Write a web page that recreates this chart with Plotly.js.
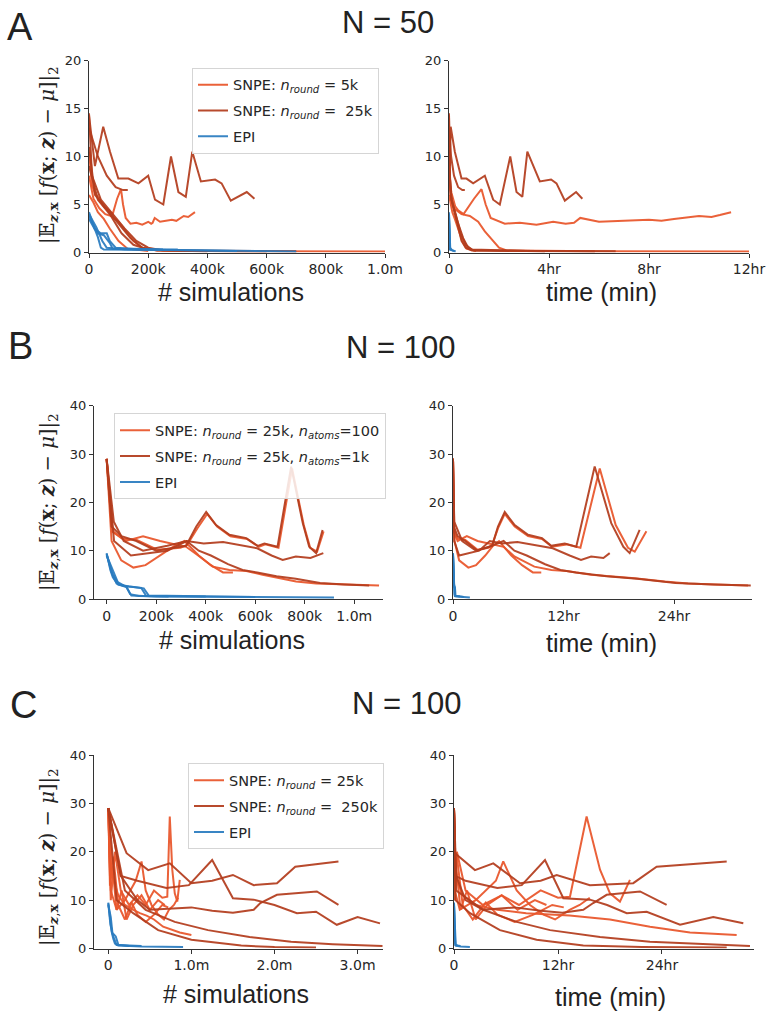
<!DOCTYPE html>
<html>
<head>
<meta charset="utf-8">
<script src="https://cdn.plot.ly/plotly-3.0.1.min.js"></script>
<style>html,body{margin:0;padding:0;background:#fff;}#chart{width:766px;height:1015px;}</style>
</head>
<body>
<div id="chart"></div>
<script>
// ===== Panel A (N = 50): sims in thousands, time in minutes =====
const A_o1_y    = [10.5, 7.0, 6.2, 5.6, 4.8, 4.4, 4.0, 5.6, 6.6, 5.0, 3.6, 3.0, 3.1, 2.9, 3.2, 3.0, 3.1, 3.6, 3.2, 3.3, 3.4, 3.3, 3.5, 3.8, 3.7, 3.9, 4.2];
const A_o1_sims = [0, 10, 20, 35, 50, 65, 80, 95, 108, 115, 124, 140, 160, 180, 200, 210, 215, 222, 240, 260, 280, 295, 305, 320, 335, 345, 358];
const A_o1_time = [0, 3, 6, 10, 15, 22, 35, 60, 78, 88, 100, 134, 170, 210, 250, 280, 300, 315, 360, 420, 480, 510, 540, 600, 630, 650, 677];
const A_o2_y    = [8.0, 5.6, 4.6, 4.0, 3.8, 3.2, 2.2, 1.2, 0.5, 0.2, 0.12, 0.1];
const A_o2_sims = [0, 15, 35, 55, 75, 100, 125, 150, 180, 230, 500, 1000];
const A_o2_time = [0, 4, 12, 30, 50, 70, 86, 105, 120, 140, 360, 720];
const A_o3_y    = [6.0, 5.2, 4.2, 3.5, 2.5, 1.2, 0.4, 0.15];
const A_o3_sims = [0, 15, 30, 50, 70, 100, 130, 200];
const A_o3_time = [0, 3, 8, 14, 22, 32, 42, 65];
const A_d1_y    = [14.3, 9.0, 13.1, 10.5, 7.7, 7.7, 7.2, 8.0, 5.5, 5.0, 10.0, 6.3, 5.8, 10.5, 7.4, 7.6, 7.2, 5.4, 6.3, 5.6];
const A_d1_sims = [0, 20, 48, 71, 99, 133, 167, 200, 223, 251, 277, 302, 327, 349, 378, 426, 448, 479, 533, 559];
const A_d1_time = [0, 2, 4, 14, 30, 42, 58, 86, 106, 122, 147, 162, 176, 188, 218, 245, 258, 278, 305, 320];
const A_d2_y    = [13.0, 10.0, 8.0, 6.8, 6.5, 6.5];
const A_d2_sims = [0, 30, 60, 90, 115, 131];
const A_d2_time = [0, 5, 12, 22, 32, 38];
const A_d3_y    = [14.5, 8.0, 5.5, 4.0, 2.5, 1.2, 0.5, 0.2, 0.15, 0.12];
const A_d3_sims = [0, 10, 40, 80, 120, 160, 200, 250, 450, 700];
const A_d3_time = [0, 2, 6, 14, 22, 30, 40, 55, 200, 400];
const A_d4_y    = [11.0, 6.0, 4.5, 3.0, 1.5, 0.5, 0.2, 0.1];
const A_d4_sims = [0, 20, 60, 100, 140, 180, 230, 600];
const A_d4_time = [0, 4, 12, 22, 34, 46, 60, 350];
const A_d5_y    = [9.0, 5.5, 4.0, 2.0, 0.8, 0.3, 0.1];
const A_d5_sims = [0, 30, 70, 110, 150, 200, 400];
const A_d5_time = [0, 6, 16, 28, 40, 55, 230];
const A_e1_y    = [4.2, 3.2, 2.4, 1.6, 0.5, 0.3, 0.3, 0.25, 0.1];
const A_e1_sims = [0, 10, 20, 30, 40, 50, 100, 300, 700];
const A_e1_time = [0, 0.3, 0.6, 0.9, 1.2, 1.5, 3, 8, 16];
const A_e2_y    = [3.8, 2.8, 2.0, 1.8, 1.0, 0.4, 0.3, 0.15];
const A_e2_sims = [0, 15, 30, 50, 70, 80, 150, 500];
const A_e2_time = [0, 0.4, 0.8, 1.3, 1.8, 2.1, 4, 12];
const A_e3_y    = [3.5, 2.4, 2.0, 2.0, 1.2, 0.5, 0.4, 0.3];
const A_e3_sims = [0, 20, 40, 60, 70, 90, 150, 250];
const A_e3_time = [0, 0.5, 1, 1.5, 1.8, 2.3, 4, 6];
const A_e4_y    = [4.0, 2.6, 1.2, 0.5, 0.35, 0.3];
const A_e4_sims = [0, 25, 45, 60, 120, 300];
const A_e4_time = [0, 0.6, 1.1, 1.5, 3, 7];

// ===== Panel B (N = 100, atoms): sims in thousands, time in minutes =====
const B_r1_y    = [29, 15, 13, 12, 10, 10.8, 11, 15, 18, 15.3, 13.3, 12.6, 11.0, 11.5, 10.8, 27.4, 15.7, 10.8, 9.5, 14.3];
const B_r1_sims = [0, 20, 60, 120, 200, 294, 321, 362, 402, 442, 496, 564, 610, 637, 690, 745, 792, 818, 846, 872];
const B_r1_time = [0, 5, 30, 80, 160, 230, 255, 293, 337, 402, 489, 580, 640, 728, 803, 923, 1031, 1110, 1151, 1216];
const B_r1o_y    = [29, 14, 12.5, 12.2, 10.2, 10.6, 11.2, 14.6, 17.6, 15.0, 13.0, 12.4, 10.8, 11.3, 10.6, 27.0, 15.3, 10.6, 9.8, 14.0];
const B_r1o_sims = [0, 22, 62, 122, 204, 298, 325, 366, 406, 446, 500, 568, 614, 641, 694, 749, 796, 822, 850, 876];
const B_r1o_time = [0, 5, 30, 80, 160, 230, 255, 293, 337, 402, 489, 580, 645, 740, 830, 956, 1060, 1140, 1184, 1260];
const B_r2_y    = [29, 12, 9, 9.5, 10, 12, 11.5, 11.8, 11, 10.5, 9, 8.1, 8.8, 8.5, 9.5];
const B_r2_sims = [0, 30, 98, 176, 245, 323, 392, 470, 549, 608, 666, 711, 764, 823, 875];
const B_r2_time = [0, 8, 40, 100, 170, 240, 320, 420, 560, 650, 760, 834, 900, 980, 1021];
const B_r3_y    = [29, 14, 12, 13, 12, 10.8, 8.8, 6.7, 6.0, 5.8, 5.0, 4.3, 3.6, 3.2, 3.0, 2.8];
const B_r3_sims = [0, 25, 78, 147, 216, 321, 375, 428, 496, 564, 630, 698, 765, 846, 940, 1100];
const B_r3_time = [0, 5, 30, 90, 160, 330, 400, 530, 641, 740, 900, 1184, 1379, 1531, 1705, 1922];
const B_r4_y    = [29, 16, 12, 10, 11, 12, 10, 9, 7.2, 6.0, 5.5, 4.7, 4.2, 3.3, 3.0, 2.8];
const B_r4_sims = [0, 29, 69, 147, 245, 323, 372, 421, 490, 549, 608, 686, 764, 862, 960, 1060];
const B_r4_time = [0, 8, 60, 150, 250, 330, 400, 480, 600, 700, 800, 1000, 1200, 1450, 1700, 1940];
const B_r5_y    = [29, 12, 8, 6.5, 7, 9, 11, 12, 9, 7, 5.5, 5.5];
const B_r5_sims = [0, 20, 59, 108, 157, 216, 274, 314, 372, 421, 470, 510];
const B_r5_time = [0, 10, 40, 100, 150, 210, 260, 300, 380, 450, 520, 575];
const B_e1_y    = [9.5, 6.0, 4.5, 3.0, 2.5, 0.7, 0.5, 0.4, 0.3];
const B_e1_sims = [0, 15, 25, 45, 80, 100, 200, 500, 918];
const B_e1_time = [0, 2, 4, 7, 10, 13, 30, 60, 110];
const B_e2_y    = [9.2, 5.5, 3.2, 2.7, 2.5, 2.3, 0.6, 0.5];
const B_e2_sims = [0, 20, 40, 70, 110, 140, 160, 400];
const B_e2_time = [0, 2, 4, 7, 10, 13, 15, 45];
const B_e3_y    = [9.0, 6.5, 3.5, 2.5, 1.0, 0.6, 0.5];
const B_e3_sims = [0, 20, 45, 80, 95, 130, 250];
const B_e3_time = [0, 2, 4, 7, 9, 12, 25];
const B_e4_y    = [9.3, 5.0, 3.0, 2.6, 2.2, 0.7, 0.4];
const B_e4_sims = [0, 25, 50, 90, 150, 170, 600];
const B_e4_time = [0, 2, 5, 8, 13, 15, 70];

// ===== Panel C (N = 100, round size): sims in millions, time in minutes =====
const C_o1_y    = [29, 10, 20, 12, 9, 11, 9, 12, 10.5, 10.7, 27.3, 16.3, 11.4, 9.7, 14.2];
const C_o1_sims = [0, 0.03, 0.08, 0.15, 0.25, 0.35, 0.45, 0.55, 0.65, 0.71, 0.74, 0.77, 0.8, 0.83, 0.86];
const C_o1_time = [0, 5, 20, 80, 200, 330, 450, 600, 720, 803, 918, 1011, 1080, 1149, 1218];
const C_o2_y    = [29, 12, 8, 10, 14, 18, 12, 9, 7, 6, 8, 9, 10.5];
const C_o2_sims = [0, 0.03, 0.1, 0.2, 0.33, 0.4, 0.45, 0.52, 0.6, 0.67, 0.73, 0.79, 0.84];
const C_o2_time = [0, 5, 40, 150, 290, 341, 434, 526, 620, 700, 800, 870, 940];
const C_o3_y    = [29, 15, 11, 9, 8, 7.3, 6.8, 6.0, 4.5, 3.3, 2.8];
const C_o3_sims = [0, 0.05, 0.12, 0.2, 0.3, 0.38, 0.46, 0.55, 0.66, 0.86, 1.0];
const C_o3_time = [0, 10, 60, 150, 300, 500, 800, 1080, 1357, 1634, 1957];
const C_o4_y    = [29, 15, 19, 9, 6, 9.5, 7, 5.5, 7, 9, 8.5];
const C_o4_sims = [0, 0.02, 0.06, 0.12, 0.2, 0.28, 0.35, 0.45, 0.55, 0.65, 0.72];
const C_o4_time = [0, 5, 20, 60, 130, 220, 300, 420, 550, 680, 760];
const C_o5_y    = [29, 13, 17, 8, 12, 6, 9, 11, 8, 10, 9];
const C_o5_sims = [0, 0.02, 0.05, 0.1, 0.16, 0.22, 0.3, 0.4, 0.5, 0.6, 0.68];
const C_o5_time = [0, 4, 15, 45, 90, 150, 230, 330, 440, 560, 640];
const C_d1_y    = [29, 19.7, 16.2, 17.6, 13.5, 14.0, 15.2, 13.1, 13.5, 16.9, 18.0];
const C_d1_sims = [0, 0.22, 0.48, 0.74, 1.0, 1.25, 1.5, 1.75, 2.03, 2.25, 2.77];
const C_d1_time = [0, 7, 145, 272, 457, 600, 711, 941, 1241, 1403, 1888];
const C_d2_y    = [29, 15, 14, 12.5, 13.1, 18.3, 10.4, 10.1, 9.0, 7.3, 7.6, 4.9, 6.5, 5.2];
const C_d2_sims = [0, 0.15, 0.35, 0.7, 0.97, 1.25, 1.5, 1.75, 2.0, 2.27, 2.5, 2.75, 3.0, 3.27];
const C_d2_time = [0, 10, 80, 300, 469, 630, 757, 941, 1060, 1196, 1334, 1565, 1795, 2003];
const C_d3_y    = [29, 15, 10, 8, 8.5, 7.8, 7.4, 8.0, 9.4, 11.1, 11.8, 9.0];
const C_d3_sims = [0, 0.15, 0.35, 0.5, 1.0, 1.25, 1.5, 1.75, 1.83, 2.03, 2.51, 2.77];
const C_d3_time = [0, 15, 80, 200, 420, 600, 750, 895, 964, 1057, 1288, 1472];
const C_d4_y    = [29, 12, 8, 5.5, 3.8, 2.4, 1.4, 0.9, 0.5];
const C_d4_sims = [0, 0.2, 0.45, 0.8, 1.2, 1.7, 2.2, 2.7, 3.3];
const C_d4_time = [0, 15, 203, 434, 665, 1011, 1357, 1703, 2049];
const C_d5_y    = [29, 10, 7.3, 3.8, 1.8, 0.6, 0.3, 0.2];
const C_d5_sims = [0, 0.1, 0.3, 0.6, 1.0, 1.6, 2.0, 2.5];
const C_d5_time = [0, 10, 111, 318, 572, 895, 1300, 1888];
const C_e1_y    = [9.5, 6.0, 3.5, 2.0, 1.0, 0.6, 0.4, 0.3];
const C_e1_sims = [0, 0.02, 0.04, 0.06, 0.08, 0.12, 0.4, 0.9];
const C_e1_time = [0, 2, 4, 6, 8, 12, 45, 110];
const C_e2_y    = [9.3, 5.0, 3.0, 1.5, 0.7, 0.5];
const C_e2_sims = [0, 0.025, 0.05, 0.08, 0.1, 0.4];
const C_e2_time = [0, 2, 5, 8, 10, 45];
const C_e3_y    = [9.0, 6.5, 3.2, 2.5, 0.8, 0.5];
const C_e3_sims = [0, 0.03, 0.05, 0.09, 0.12, 0.25];
const C_e3_time = [0, 3, 5, 9, 12, 25];

// ===== tick labels and legend labels =====
const A_simTicks = [0, 200, 400, 600, 800, 1000];
const A_simText  = ['0', '200k', '400k', '600k', '800k', '1.0m'];
const A_timeTicks = [0, 240, 480, 720];
const A_timeText  = ['0', '4hr', '8hr', '12hr'];
const B_simTicks = [0, 200, 400, 600, 800, 1000];
const B_simText  = ['0', '200k', '400k', '600k', '800k', '1.0m'];
const C_simTicks = [0, 1, 2, 3];
const C_simText  = ['0', '1.0m', '2.0m', '3.0m'];
const BC_timeTicks = [0, 720, 1440];
const BC_timeText  = ['0', '12hr', '24hr'];
const A_yTicks = [0, 5, 10, 15, 20];
const BC_yTicks = [0, 10, 20, 30, 40];
const A_labels = ['SNPE: <i>n</i><sub><i>round</i></sub> = 5k', 'SNPE: <i>n</i><sub><i>round</i></sub> =\u00a0 25k', 'EPI'];
const B_labels = ['SNPE: <i>n</i><sub><i>round</i></sub> = 25k, <i>n</i><sub><i>atoms</i></sub>=100', 'SNPE: <i>n</i><sub><i>round</i></sub> = 25k, <i>n</i><sub><i>atoms</i></sub>=1k', 'EPI'];
const C_labels = ['SNPE: <i>n</i><sub><i>round</i></sub> = 25k', 'SNPE: <i>n</i><sub><i>round</i></sub> =\u00a0 250k', 'EPI'];

const COL = {o: '#e8552a', d: '#b33c1d', e: '#2a7cc0'};
const W = 766, H = 1015;

const traces = [];
function addRun(y, sims, time, kind, ax, legendName, labels) {
  const idx = {o: 0, d: 1, e: 2}[kind];
  const base = {mode: 'lines', line: {color: COL[kind], width: 2}, opacity: 0.93, hoverinfo: 'skip'};
  const show = !legendName.done[kind];
  legendName.done[kind] = true;
  traces.push(Object.assign({}, base, {x: sims, y: y, xaxis: 'x' + ax[0], yaxis: 'y' + ax[0],
    showlegend: show, name: labels[idx], legend: legendName.id, legendgroup: legendName.id + kind, legendrank: idx + 1}));
  traces.push(Object.assign({}, base, {x: time, y: y, xaxis: 'x' + ax[1], yaxis: 'y' + ax[1], showlegend: false,
    legendgroup: legendName.id + kind}));
}
const LA = {id: 'legend', done: {}}, LB = {id: 'legend2', done: {}}, LC = {id: 'legend3', done: {}};
const axA = ['', '2'], axB = ['3', '4'], axC = ['5', '6'];
addRun(A_o1_y, A_o1_sims, A_o1_time, 'o', axA, LA, A_labels);
addRun(A_o2_y, A_o2_sims, A_o2_time, 'o', axA, LA, A_labels);
addRun(A_o3_y, A_o3_sims, A_o3_time, 'o', axA, LA, A_labels);
addRun(A_d1_y, A_d1_sims, A_d1_time, 'd', axA, LA, A_labels);
addRun(A_d2_y, A_d2_sims, A_d2_time, 'd', axA, LA, A_labels);
addRun(A_d3_y, A_d3_sims, A_d3_time, 'd', axA, LA, A_labels);
addRun(A_d4_y, A_d4_sims, A_d4_time, 'd', axA, LA, A_labels);
addRun(A_d5_y, A_d5_sims, A_d5_time, 'd', axA, LA, A_labels);
addRun(A_e1_y, A_e1_sims, A_e1_time, 'e', axA, LA, A_labels);
addRun(A_e2_y, A_e2_sims, A_e2_time, 'e', axA, LA, A_labels);
addRun(A_e3_y, A_e3_sims, A_e3_time, 'e', axA, LA, A_labels);
addRun(A_e4_y, A_e4_sims, A_e4_time, 'e', axA, LA, A_labels);

addRun(B_r1o_y, B_r1o_sims, B_r1o_time, 'o', axB, LB, B_labels);
addRun(B_r3_y, B_r3_sims, B_r3_time, 'o', axB, LB, B_labels);
addRun(B_r5_y, B_r5_sims, B_r5_time, 'o', axB, LB, B_labels);
addRun(B_r1_y, B_r1_sims, B_r1_time, 'd', axB, LB, B_labels);
addRun(B_r2_y, B_r2_sims, B_r2_time, 'd', axB, LB, B_labels);
addRun(B_r4_y, B_r4_sims, B_r4_time, 'd', axB, LB, B_labels);
addRun(B_e1_y, B_e1_sims, B_e1_time, 'e', axB, LB, B_labels);
addRun(B_e2_y, B_e2_sims, B_e2_time, 'e', axB, LB, B_labels);
addRun(B_e3_y, B_e3_sims, B_e3_time, 'e', axB, LB, B_labels);
addRun(B_e4_y, B_e4_sims, B_e4_time, 'e', axB, LB, B_labels);

addRun(C_o1_y, C_o1_sims, C_o1_time, 'o', axC, LC, C_labels);
addRun(C_o2_y, C_o2_sims, C_o2_time, 'o', axC, LC, C_labels);
addRun(C_o3_y, C_o3_sims, C_o3_time, 'o', axC, LC, C_labels);
addRun(C_o4_y, C_o4_sims, C_o4_time, 'o', axC, LC, C_labels);
addRun(C_o5_y, C_o5_sims, C_o5_time, 'o', axC, LC, C_labels);
addRun(C_d1_y, C_d1_sims, C_d1_time, 'd', axC, LC, C_labels);
addRun(C_d2_y, C_d2_sims, C_d2_time, 'd', axC, LC, C_labels);
addRun(C_d3_y, C_d3_sims, C_d3_time, 'd', axC, LC, C_labels);
addRun(C_d4_y, C_d4_sims, C_d4_time, 'd', axC, LC, C_labels);
addRun(C_d5_y, C_d5_sims, C_d5_time, 'd', axC, LC, C_labels);
addRun(C_e1_y, C_e1_sims, C_e1_time, 'e', axC, LC, C_labels);
addRun(C_e2_y, C_e2_sims, C_e2_time, 'e', axC, LC, C_labels);
addRun(C_e3_y, C_e3_sims, C_e3_time, 'e', axC, LC, C_labels);

const px = v => v / W;
const py = v => 1 - v / H;
const tickFontX = {family: 'DejaVu Sans, sans-serif', size: 14, color: '#262626'};
const tickFontY = {family: 'DejaVu Sans, sans-serif', size: 13, color: '#262626'};
function xAxis(l, r, range, tv, tt, anchor) {
  return {domain: [px(l), px(r)], range: range, tickvals: tv, ticktext: tt, anchor: anchor,
    showline: true, linecolor: '#333', linewidth: 1, ticks: 'outside', ticklen: 4, tickcolor: '#333',
    showgrid: false, zeroline: false, tickfont: tickFontX, fixedrange: true};
}
function yAxis(top, bot, range, tv, anchor) {
  return {domain: [py(bot), py(top)], range: range, tickvals: tv, anchor: anchor,
    showline: true, linecolor: '#333', linewidth: 1, ticks: 'outside', ticklen: 4, tickcolor: '#333',
    showgrid: false, zeroline: false, tickfont: tickFontY, fixedrange: true};
}

const yTitle = '|\u{1D53C}<sub><b><i>z</i></b>,<b>x</b></sub> [<i>f</i>(<b>x</b>; <b><i>z</i></b>) \u2212 <i>\u03bc</i>]|<sub>2</sub>';
const annFont = {family: 'Liberation Sans, Arial, sans-serif', color: '#222'};
function ann(text, x, y, size, extra) {
  return Object.assign({text: text, x: px(x), y: py(y), xref: 'paper', yref: 'paper', showarrow: false,
    xanchor: 'center', yanchor: 'middle', font: Object.assign({}, annFont, {size: size})}, extra || {});
}
const serif = {family: 'DejaVu Serif, serif', size: 19.5, color: '#222'};
const annotations = [
  ann('A', 20, 27, 38), ann('B', 20, 346, 38), ann('C', 24, 705, 38),
  ann('N = 50', 388, 23, 31), ann('N = 100', 400, 347, 31), ann('N = 100', 406, 703, 31),
  ann('# simulations', 231, 292, 25), ann('time (min)', 601, 292, 25),
  ann('# simulations', 232, 640, 25), ann('time (min)', 601, 643, 25),
  ann('# simulations', 236, 994, 25), ann('time (min)', 610, 997, 25),
  ann(yTitle, 48, 155, 19.5, {textangle: -90, font: serif}),
  ann(yTitle, 48, 502, 19.5, {textangle: -90, font: serif}),
  ann(yTitle, 48, 857, 19.5, {textangle: -90, font: serif})
];
const legFont = {family: 'DejaVu Sans, sans-serif', size: 14.5, color: '#262626'};
function legend(x, y) {
  return {x: px(x), y: py(y), xanchor: 'left', yanchor: 'top', font: legFont, bgcolor: 'rgba(255,255,255,0.85)',
    bordercolor: '#d5d5d5', borderwidth: 1, tracegroupgap: 4, traceorder: 'grouped'};
}

const layout = {
  width: W, height: H, margin: {l: 0, r: 0, t: 0, b: 0}, paper_bgcolor: '#fff', plot_bgcolor: '#fff',
  showlegend: true,
  xaxis:  xAxis(89, 385, [0, 1000], A_simTicks, A_simText, 'y'),
  yaxis:  yAxis(60.5, 252.5, [0, 20], A_yTicks, 'x'),
  xaxis2: xAxis(449, 749, [0, 720], A_timeTicks, A_timeText, 'y2'),
  yaxis2: yAxis(60.5, 252.5, [0, 20], A_yTicks, 'x2'),
  xaxis3: xAxis(94, 383, [-51, 1116], B_simTicks, B_simText, 'y3'),
  yaxis3: yAxis(405.7, 599, [0, 40], BC_yTicks, 'x3'),
  xaxis4: xAxis(453, 752, [0, 1948], BC_timeTicks, BC_timeText, 'y4'),
  yaxis4: yAxis(405.7, 599, [0, 40], BC_yTicks, 'x4'),
  xaxis5: xAxis(94, 383, [-0.172, 3.306], C_simTicks, C_simText, 'y5'),
  yaxis5: yAxis(755, 948.5, [0, 40], BC_yTicks, 'x5'),
  xaxis6: xAxis(454, 754, [0, 2077], BC_timeTicks, BC_timeText, 'y6'),
  yaxis6: yAxis(755, 948.5, [0, 40], BC_yTicks, 'x6'),
  legend: legend(192, 67.7),
  legend2: legend(114, 413.3),
  legend3: legend(188, 763.3),
  annotations: annotations
};
Plotly.newPlot('chart', traces, layout, {staticPlot: true, displayModeBar: false});
</script>
</body>
</html>
